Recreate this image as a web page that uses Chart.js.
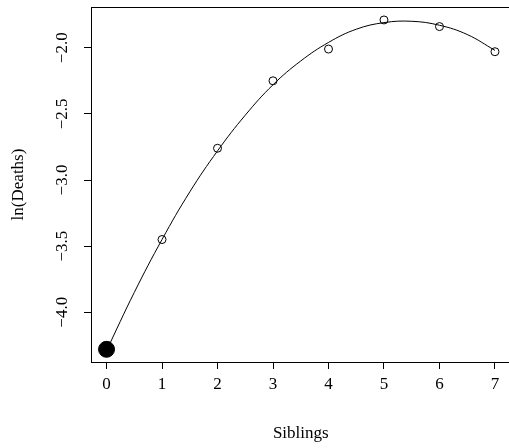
<!DOCTYPE html>
<html>
<head>
<meta charset="utf-8">
<script src="https://cdn.jsdelivr.net/npm/chart.js@4"></script>
<style>
  html, body { margin: 0; padding: 0; background: #fff; overflow: hidden; }
  #wrap { width: 509px; height: 448px; overflow: hidden; }
</style>
</head>
<body>
<div id="wrap"><canvas id="chart" width="512" height="448"></canvas></div>
<script>
// observed points
const siblings = [0, 1, 2, 3, 4, 5, 6, 7];
const lnDeaths = [-4.28, -3.45, -2.76, -2.25, -2.01, -1.79, -1.84, -2.03];

// fitted curve
const curveX = [0, 0.5, 1, 1.5, 2, 2.5, 3, 3.5, 4, 4.5, 5, 5.5, 6, 6.5, 7];
const curveY = [-4.29, -3.85, -3.45, -3.09, -2.78, -2.51, -2.28, -2.10, -1.96, -1.86, -1.81, -1.80, -1.83, -1.90, -2.02];

// tick labels
const xTicks = [0, 1, 2, 3, 4, 5, 6, 7];
const yTicks = [-4.0, -3.5, -3.0, -2.5, -2.0];

const serif = { family: "'Liberation Serif', 'Times New Roman', serif", size: 17 };

const boxPlugin = {
  id: "box",
  beforeDraw(chart) {
    const ctx = chart.ctx;
    ctx.save();
    ctx.fillStyle = "#fff";
    ctx.fillRect(0, 0, chart.width, chart.height);
    ctx.restore();
  },
  afterDraw(chart) {
    const a = chart.chartArea;
    const ctx = chart.ctx;
    ctx.save();
    ctx.strokeStyle = "#000";
    ctx.lineWidth = 1;
    ctx.strokeRect(Math.round(a.left) + 0.5, Math.round(a.top) + 0.5,
      Math.round(a.right - a.left), Math.round(a.bottom - a.top));
    ctx.restore();
  }
};

function renderChart() {
  const ctx = document.getElementById("chart").getContext("2d");
  new Chart(ctx, {
    type: "scatter",
    data: {
      datasets: [
        {
          label: "fit",
          data: curveX.map((x, i) => ({ x: x, y: curveY[i] })),
          showLine: true,
          tension: 0.4,
          borderColor: "#000",
          borderWidth: 1,
          pointRadius: 0,
          fill: false,
        },
        {
          label: "observed",
          data: siblings.map((x, i) => ({ x: x, y: lnDeaths[i] })),
          pointStyle: "circle",
          pointRadius: (c) => (c.dataIndex === 0 ? 8 : 4),
          pointBorderWidth: 1,
          pointBorderColor: "#000",
          pointBackgroundColor: (c) => (c.dataIndex === 0 ? "#000" : "rgba(0,0,0,0)"),
        },
      ],
    },
    options: {
      responsive: false,
      animation: false,
      devicePixelRatio: 1,
      layout: { autoPadding: false, padding: { top: 7, right: 1.5, left: 0, bottom: 0 } },
      plugins: { legend: { display: false }, tooltip: { enabled: false } },
      scales: {
        x: {
          type: "linear",
          min: -0.28,
          max: 7.28,
          afterBuildTicks: (s) => { s.ticks = xTicks.map((v) => ({ value: v })); },
          afterFit: (s) => {
            s.height = 86;
            s.paddingLeft = 0;
            s.paddingRight = 0;
          },
          grid: { display: true, drawOnChartArea: false, drawTicks: true, tickLength: 7, color: "#000" },
          border: { display: true, color: "#000" },
          ticks: { color: "#000", font: serif, padding: 5, maxRotation: 0, callback: (v) => String(v) },
          title: { display: true, text: "Siblings", color: "#000", font: serif, padding: { top: 0, bottom: 4 } },
        },
        y: {
          type: "linear",
          min: -4.376,
          max: -1.692,
          afterBuildTicks: (s) => { s.ticks = yTicks.map((v) => ({ value: v })); },
          afterFit: (s) => {
            s.width = 91;
            s.paddingTop = 0;
            s.paddingBottom = 0;
          },
          grid: { display: true, drawOnChartArea: false, drawTicks: true, tickLength: 7, color: "#000" },
          border: { display: true, color: "#000" },
          ticks: {
            color: "#000",
            font: serif,
            padding: 6,
            minRotation: 90,
            maxRotation: 90,
            crossAlign: "center",
            callback: (v) => v.toFixed(1).replace("-", "\u2212"),
          },
          title: { display: true, text: "ln(Deaths)", color: "#000", font: serif, padding: { top: 8, bottom: 0 } },
        },
      },
    },
    plugins: [boxPlugin],
  });
}

renderChart();
</script>
</body>
</html>
